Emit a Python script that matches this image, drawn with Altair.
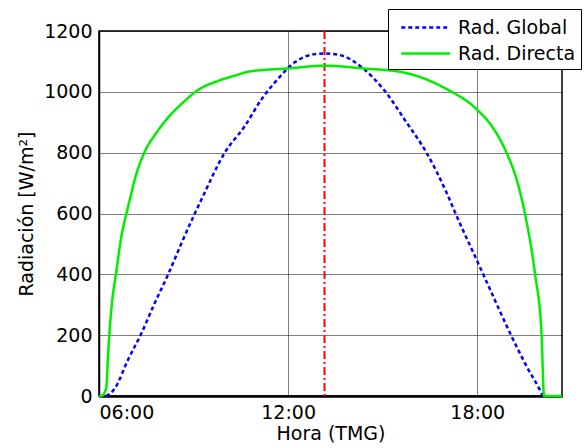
import altair as alt
import pandas as pd

# Rad. Global (blue dashed)
glob_t = [6.0, 6.18, 6.50, 6.92, 7.35, 7.77, 8.19, 8.62, 9.04, 9.25, 9.99, 10.63, 11.16, 11.58,
          12.21, 12.85, 13.17, 13.64, 14.38, 15.02, 15.76, 16.39, 17.03, 17.35, 17.98, 18.51,
          19.04, 19.57, 20.04, 20.08]
glob_v = [0, 0, 25, 119, 207, 306, 399, 503, 600, 646, 800, 888, 976, 1031,
          1097, 1124, 1126, 1121, 1077, 1009, 899, 800, 668, 591, 448, 327,
          207, 97, 9, 0]

# Rad. Directa (green solid)
dir_t = [6.0, 6.08, 6.23, 6.29, 6.39, 6.55, 6.71, 6.87, 7.0, 7.13, 7.45, 7.77, 8.03, 8.72,
         9.14, 9.78, 10.3, 10.78, 12.0, 13.17, 14.38, 15.65, 17.03, 17.98, 18.51, 18.93,
         19.25, 19.51, 19.83, 20.04, 20.12, 20.69]
dir_v = [0, 0, 26, 141, 283, 410, 525, 600, 655, 710, 803, 858, 895, 970,
         1006, 1036, 1053, 1067, 1077, 1086, 1077, 1064, 1009, 943, 880, 800,
         712, 602, 404, 207, 0, 0]

noon = [13.155]
series = ["Rad. Global", "Rad. Directa"]
x_ticks = [6, 12, 18]
y_ticks = [0, 200, 400, 600, 800, 1000, 1200]

df = pd.DataFrame(
    {"t": glob_t + dir_t,
     "v": glob_v + dir_v,
     "serie": [series[0]] * len(glob_t) + [series[1]] * len(dir_t)}
)
df_noon = pd.DataFrame({"t": noon})

FONT = "DejaVu Sans"

x_scale = alt.Scale(domain=[6, 20.69], nice=False, zero=False)
y_scale = alt.Scale(domain=[0, 1200], nice=False)

lines = alt.Chart(df).mark_line(strokeWidth=2.5, interpolate="monotone").encode(
    x=alt.X("t:Q", scale=x_scale,
            axis=alt.Axis(values=x_ticks, title="Hora (TMG)",
                          labelExpr="(datum.value < 10 ? '0' : '') + datum.value + ':00'")),
    y=alt.Y("v:Q", scale=y_scale,
            axis=alt.Axis(values=y_ticks, title="Radiación [W/m²]", format="d")),
    color=alt.Color("serie:N", sort=series,
                    scale=alt.Scale(domain=series, range=["#0000ff", "#00ee00"]),
                    legend=alt.Legend(title=None, orient="none", legendX=289, legendY=-22,
                                      fillColor="white", strokeColor="black", padding=5,
                                      symbolType="M-1,0H3", symbolSize=600,
                                      symbolOffset=7,
                                      symbolStrokeWidth=2.5, labelFontSize=19,
                                      labelFont=FONT, labelColor="black", rowPadding=2,
                                      labelOffset=31)),
    strokeDash=alt.StrokeDash("serie:N", sort=series,
                              scale=alt.Scale(domain=series, range=[[4, 3], [1, 0]]),
                              legend=None),
    order=alt.Order("t:Q"),
)

rule = alt.Chart(df_noon).mark_rule(color="#ff0000", strokeWidth=2,
                                    strokeDash=[8, 3, 2, 3]).encode(x=alt.X("t:Q", scale=x_scale))

chart = alt.layer(rule, lines).properties(
    width=463, height=365, autosize="none",
    padding={"left": 99, "top": 31, "right": 25, "bottom": 52},
    background="white",
).configure_view(
    stroke="black", strokeWidth=1.5
).configure_axis(
    labelFont=FONT, titleFont=FONT, labelFontSize=19, titleFontSize=19,
    titleFontWeight="normal", labelColor="black", titleColor="black",
    grid=True, gridColor="black", gridDash=[1, 1], gridOpacity=1, gridWidth=1,
    ticks=False, domainColor="black",
).configure_axisX(
    domainWidth=2.5, titlePadding=2, labelPadding=7
).configure_axisY(
    domainWidth=1.5, titlePadding=7, labelPadding=7
)

chart.save("out.html", embed_options={"renderer": "svg", "actions": False})
